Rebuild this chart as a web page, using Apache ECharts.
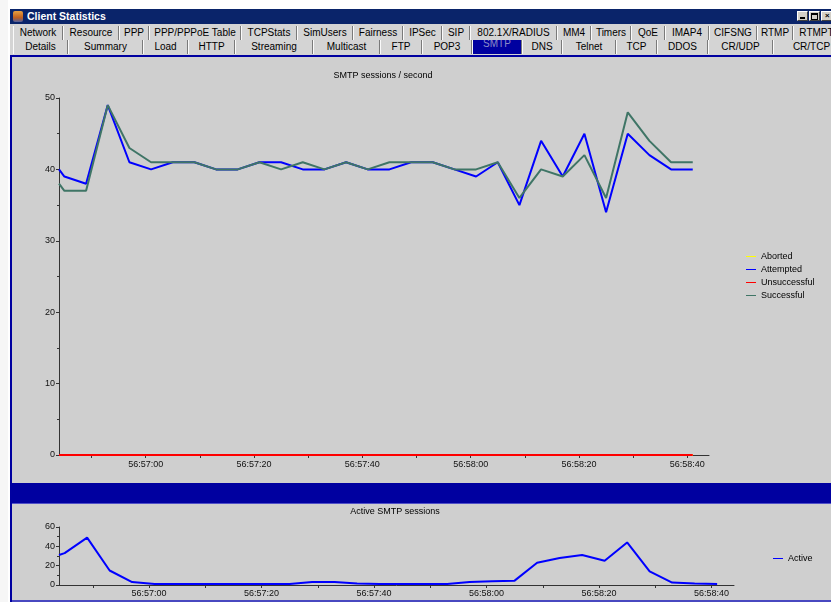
<!DOCTYPE html>
<html><head><meta charset="utf-8">
<script src="https://cdn.jsdelivr.net/npm/echarts@6/dist/echarts.min.js"></script>
<style>
html,body{margin:0;padding:0;width:831px;height:602px;overflow:hidden;background:#fff;font-family:"Liberation Sans",Arial,sans-serif;}
.abs{position:absolute;}
#titlebar{left:10px;top:9px;width:821px;height:15px;background:#0a246a;color:#fff;font-weight:bold;font-size:10.5px;line-height:15px;}
#titlebar .t{position:absolute;left:17px;top:0;}
#titlebar .ic{position:absolute;left:3px;top:2px;width:10px;height:11px;background:linear-gradient(#e8a040,#c06020 60%,#5060a0);border-radius:2px;}
.wb{position:absolute;top:2px;width:11px;height:10px;background:#d4d0c8;border:1px solid #fff;border-right-color:#404040;border-bottom-color:#404040;box-sizing:border-box;color:#000;font-size:8px;line-height:8px;text-align:center;font-weight:bold;overflow:hidden;}
.wb i{position:absolute;display:block;}
#tabstrip{left:10px;top:24px;width:821px;height:32px;background:#d4d4d4;}
.tab{position:absolute;height:14px;line-height:14px;font-size:10px;text-align:center;color:#000;box-sizing:border-box;border-right:1px solid #7a7a7a;border-left:1px solid #fafafa;white-space:nowrap;overflow:hidden;}
.tab.sel{background:#0000a0;color:#8c8cc8;line-height:8px;}
#content{left:10px;top:55px;width:830px;height:547px;background:#cfcfcf;border-left:2px solid #0000a0;border-top:2px solid #0000a0;box-sizing:border-box;}
#leftedge{left:0;top:0;width:8px;height:602px;background:#f6f6f6;}
#sepbar{left:12px;top:483px;width:821px;height:20px;background:#0000a0;border-bottom:1px solid #5050c8;}
#botline{left:12px;top:600px;width:821px;height:2px;background:#4848c0;}
#chart{position:absolute;left:0;top:0;width:831px;height:602px;}
</style></head>
<body>
<div id="leftedge" class="abs"></div>
<div id="titlebar" class="abs"><div class="ic"></div><span class="t">Client Statistics</span>
<div class="wb" style="left:787px"><i style="left:2px;top:5px;width:5px;height:2px;background:#000"></i></div>
<div class="wb" style="left:799px"><i style="left:1px;top:1px;width:5px;height:4px;border:1px solid #000;border-top-width:2px"></i></div>
<div class="wb" style="left:811px"><i style="left:1px;top:0;width:8px;height:8px;line-height:8px">×</i></div></div>
<div id="tabstrip" class="abs"></div>
<div id="content" class="abs"></div>
<div id="sepbar" class="abs"></div>
<div id="botline" class="abs"></div>
<div id="chart"></div>
<script>
// ---- data ----
const times = [44,45,49,53,57,61,65,69,73,77,81,85,89,93,97,101,105,109,113,117,121,125,129,133,137,141,145,149,153,157,161];
const attempted = [40,39,38,49,41,40,41,41,40,40,41,41,40,40,41,40,40,41,41,40,39,41,35,44,39,45,34,45,42,40,40];
const successful = [38,37,37,49,43,41,41,41,40,40,41,40,41,40,41,40,41,41,41,40,40,41,36,40,39,42,36,48,44,41,41];
const unsuccessful = [0,0,0,0,0,0,0,0,0,0,0,0,0,0,0,0,0,0,0,0,0,0,0,0,0,0,0,0,0,0,0];
const aborted = [0,0,0,0,0,0,0,0,0,0,0,0,0,0,0,0,0,0,0,0,0,0,0,0,0,0,0,0,0,0,0];
const active = [31,33,49,15,3,1,1,1,1,1,1,1,3,3,1.5,1,1,1,1,3,4,4.5,23,28,31,25,44,14,2.5,1.5,1];
const xLabelSecs = [60,80,100,120,140,160];
const xLabels = ['56:57:00','56:57:20','56:57:40','56:58:00','56:58:20','56:58:40'];
const xTickSecs = [50,60,70,80,90,100,110,120,130,140,150,160];
const seriesNames = ['Aborted','Attempted','Unsuccessful','Successful'];
const tabsRow1 = [['Network',13,63],['Resource',63,119],['PPP',119,149],['PPP/PPPoE Table',149,241],['TCPStats',241,297],['SimUsers',297,353],['Fairness',353,403],['IPSec',403,442],['SIP',442,470],['802.1X/RADIUS',470,557],['MM4',557,591],['Timers',591,631],['QoE',631,665],['IMAP4',665,709],['CIFSNG',709,757],['RTMP',757,793],['RTMPT',793,840]];
const tabsRow2 = [['Details',13,68],['Summary',68,143],['Load',143,188],['HTTP',188,235],['Streaming',235,313],['Multicast',313,380],['FTP',380,422],['POP3',422,472],['SMTP',472,522],['DNS',522,562],['Telnet',562,616],['TCP',616,657],['DDOS',657,708],['CR/UDP',708,773],['CR/TCP',773,850]];

// ---- tabs (window chrome) ----
const strip = document.getElementById('tabstrip');
function addRow(row, top){
  row.forEach(([name,x0,x1])=>{
    const d=document.createElement('div');
    d.className='tab'+(name==='SMTP'?' sel':'');
    d.style.left=(x0-10)+'px'; d.style.top=top+'px'; d.style.width=(x1-x0)+'px';
    d.textContent=name; strip.appendChild(d);
  });
}
addRow(tabsRow1,2); addRow(tabsRow2,16);

// ---- chart ----
const pair = arr => times.map((t,i)=>[t,arr[i]]);
const axisCol = '#333';
function xAxis(gi){
  return {type:'value', gridIndex:gi, min:44, max:164,
    axisLine:{lineStyle:{color:axisCol,width:1}},
    axisTick:{customValues:xTickSecs, length:3, lineStyle:{color:axisCol}},
    axisLabel:{customValues:xLabelSecs, margin:gi===0?5:4, color:'#111', fontSize:9,
      formatter:v=>xLabels[xLabelSecs.indexOf(v)]},
    splitLine:{show:false}};
}
function yAxis(gi,max,interval){
  return {type:'value', gridIndex:gi, min:0, max:max, interval:interval,
    axisLine:{show:true,lineStyle:{color:axisCol,width:1}},
    axisTick:{show:true,length:3,lineStyle:{color:axisCol}},
    minorTick:{show:true,splitNumber:2,length:2,lineStyle:{color:axisCol}},
    axisLabel:{margin:4,color:'#111',fontSize:9},
    splitLine:{show:false}};
}
const colors = {Aborted:'#ffff00',Attempted:'#0000ff',Unsuccessful:'#ff0000',Successful:'#3f7566'};
const topData = {Aborted:aborted,Attempted:attempted,Unsuccessful:unsuccessful,Successful:successful};
const chart = echarts.init(document.getElementById('chart'),null,{renderer:'canvas'});
chart.setOption({
  animation:false,
  backgroundColor:'transparent',
  textStyle:{fontFamily:'Liberation Sans',fontSize:9,color:'#000'},
  title:[
    {text:'SMTP sessions / second',left:383,top:71,textAlign:'center',textVerticalAlign:'top',padding:0,
     textStyle:{fontSize:9,fontWeight:'normal',color:'#000'}},
    {text:'Active SMTP sessions',left:395,top:507,textAlign:'center',textVerticalAlign:'top',padding:0,
     textStyle:{fontSize:9,fontWeight:'normal',color:'#000'}}
  ],
  legend:[
    {data:seriesNames,orient:'vertical',left:746,top:250,padding:0,icon:'rect',itemWidth:10,itemHeight:1,itemGap:0,
     textStyle:{fontSize:9,lineHeight:13,color:'#000'}},
    {data:['Active'],orient:'vertical',left:773,top:552,padding:0,icon:'rect',itemWidth:10,itemHeight:1,
     textStyle:{fontSize:9,lineHeight:13,color:'#000'}}
  ],
  grid:[
    {left:59,top:98,width:650,height:357},
    {left:59,top:527,width:675,height:58}
  ],
  xAxis:[xAxis(0),xAxis(1)],
  yAxis:[yAxis(0,50,10),yAxis(1,60,20)],
  series: seriesNames.map(n=>({name:n,type:'line',xAxisIndex:0,yAxisIndex:0,data:pair(topData[n]),
      showSymbol:false,symbol:'none',clip:false,color:colors[n],itemStyle:{color:colors[n]},lineStyle:{color:colors[n],width:2}}))
    .concat([{name:'Active',type:'line',xAxisIndex:1,yAxisIndex:1,data:pair(active),showSymbol:false,symbol:'none',
      clip:false,color:'#0000ff',itemStyle:{color:'#0000ff'},lineStyle:{color:'#0000ff',width:2}}])
});
</script>
</body></html>
